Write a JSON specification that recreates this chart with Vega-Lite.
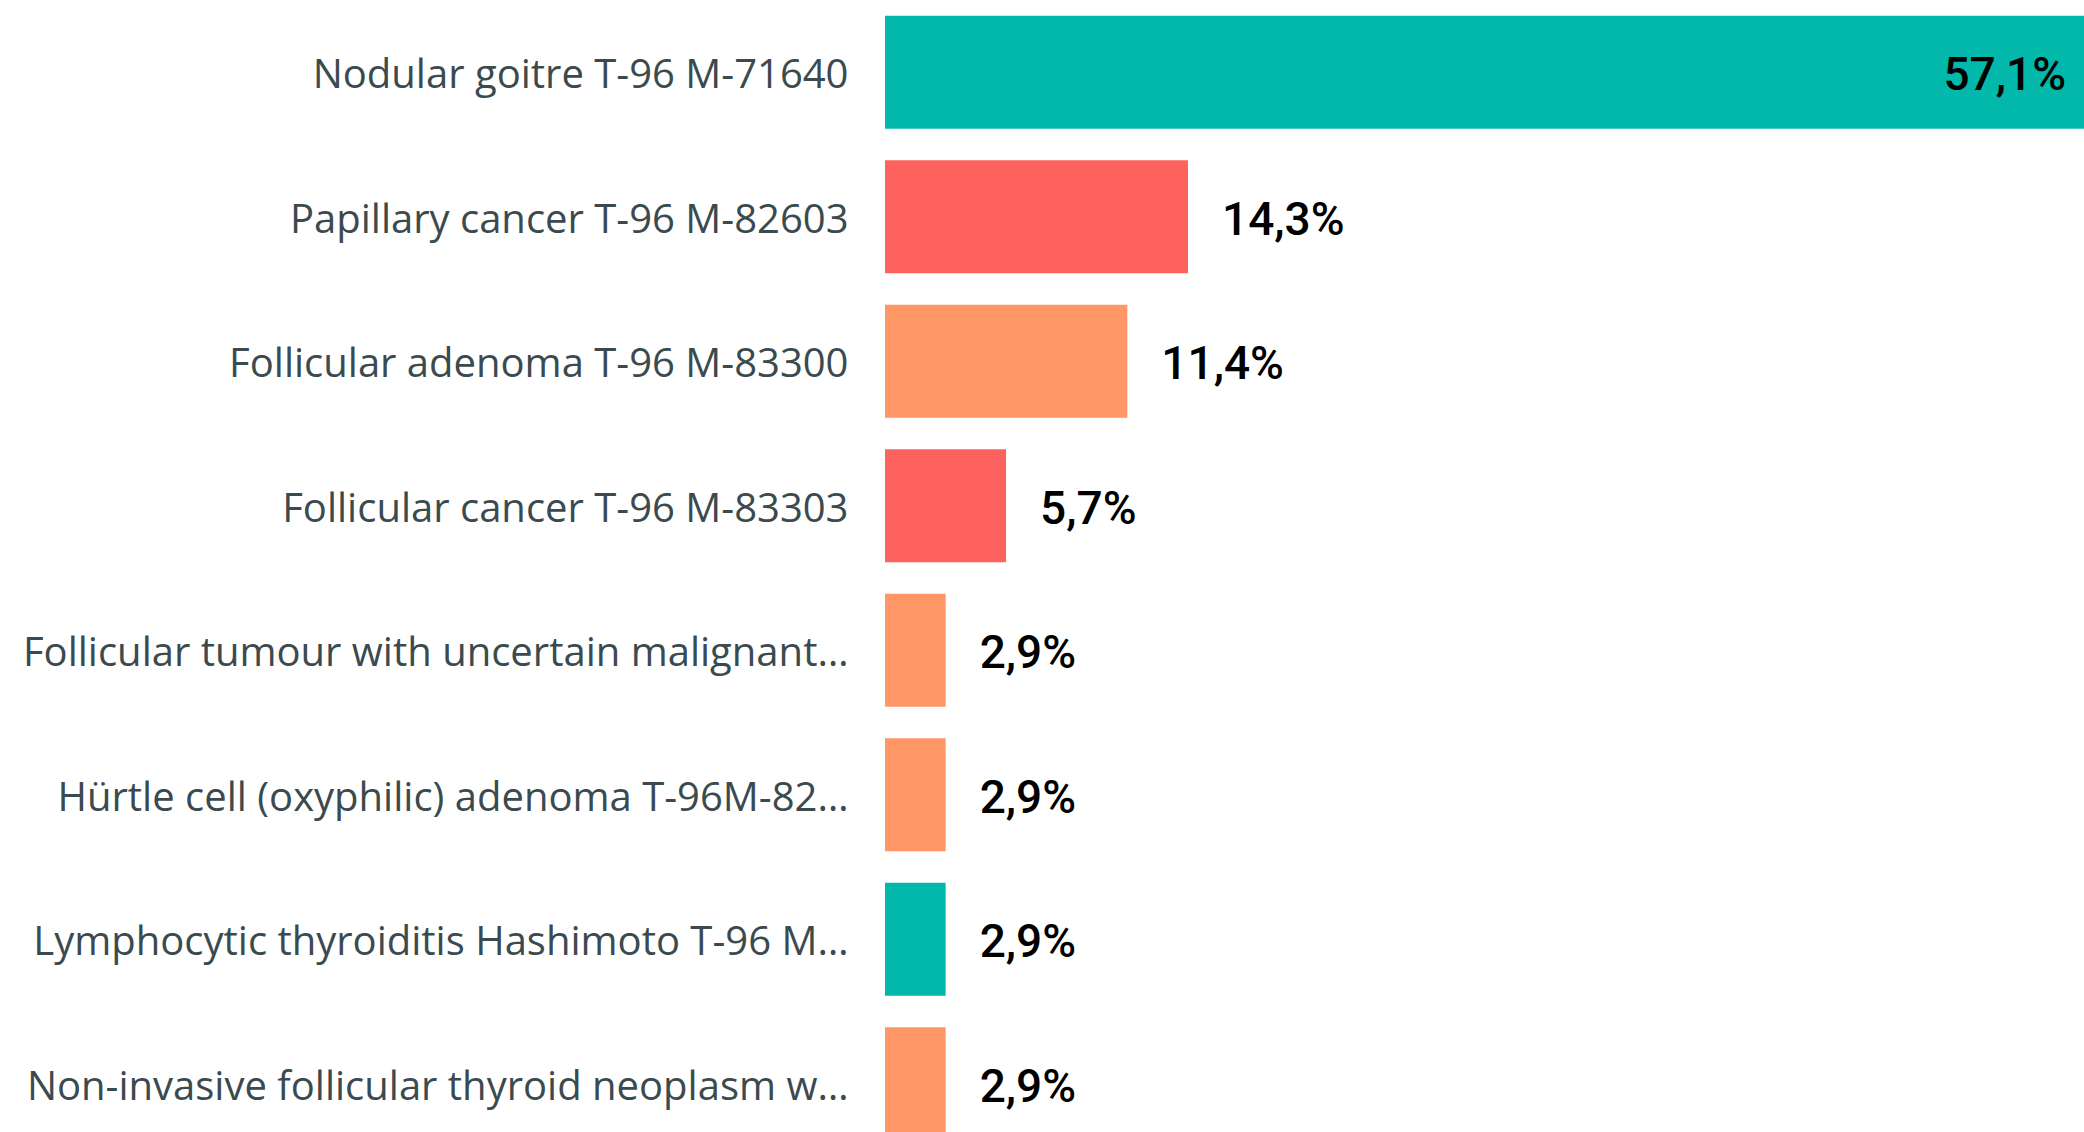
{
  "$schema": "https://vega.github.io/schema/vega-lite/v6.json",
  "autosize": {"type": "none"},
  "padding": {"left": 885, "top": 0, "right": 0, "bottom": 0},
  "width": 1199,
  "height": 1156,
  "background": "white",
  "config": {
    "view": {"stroke": null},
    "locale": {"number": {"decimal": ",", "thousands": ".", "grouping": [3], "currency": ["", " €"]}}
  },
  "data": {
    "values": [
      {"diagnosis": "Nodular goitre T-96 M-71640", "group": "Non-neoplastic", "share": 0.5714},
      {"diagnosis": "Papillary cancer T-96 M-82603", "group": "Malignant", "share": 0.1429},
      {"diagnosis": "Follicular adenoma T-96 M-83300", "group": "Benign", "share": 0.1143},
      {"diagnosis": "Follicular cancer T-96 M-83303", "group": "Malignant", "share": 0.0571},
      {"diagnosis": "Follicular tumour with uncertain malignant…", "group": "Benign", "share": 0.0286},
      {"diagnosis": "Hürtle cell (oxyphilic) adenoma T-96M-82…", "group": "Benign", "share": 0.0286},
      {"diagnosis": "Lymphocytic thyroiditis Hashimoto T-96 M…", "group": "Non-neoplastic", "share": 0.0286},
      {"diagnosis": "Non-invasive follicular thyroid neoplasm w…", "group": "Benign", "share": 0.0286}
    ]
  },
  "encoding": {
    "y": {
      "field": "diagnosis",
      "type": "nominal",
      "sort": null,
      "scale": {"paddingInner": 0.218, "paddingOuter": 0.109},
      "axis": {
        "title": null,
        "domain": false,
        "ticks": false,
        "labelPadding": 37,
        "labelOffset": 4,
        "labelFont": "Open Sans",
        "labelFontSize": 40,
        "labelColor": "#3b4a4e",
        "labelLimit": 1000
      }
    },
    "x": {
      "field": "share",
      "type": "quantitative",
      "scale": {"domain": [0, 0.5655], "nice": false, "clamp": true},
      "axis": null
    }
  },
  "layer": [
    {
      "mark": {"type": "bar"},
      "encoding": {
        "color": {
          "field": "group",
          "type": "nominal",
          "scale": {"domain": ["Non-neoplastic", "Malignant", "Benign"], "range": ["#01B8AA", "#FD625E", "#FE9666"]},
          "legend": null
        }
      }
    },
    {
      "transform": [{"filter": "datum.share < 0.5"}],
      "mark": {"type": "text", "align": "left", "baseline": "middle", "dx": 34, "dy": 4, "font": "Roboto", "fontSize": 46, "fontWeight": 500, "color": "#000000"},
      "encoding": {"text": {"field": "share", "type": "quantitative", "format": ".1%"}}
    },
    {
      "transform": [{"filter": "datum.share >= 0.5"}],
      "mark": {"type": "text", "align": "right", "baseline": "middle", "dx": -18, "dy": 4, "font": "Roboto", "fontSize": 46, "fontWeight": 500, "color": "#000000"},
      "encoding": {"text": {"field": "share", "type": "quantitative", "format": ".1%"}}
    }
  ]
}
